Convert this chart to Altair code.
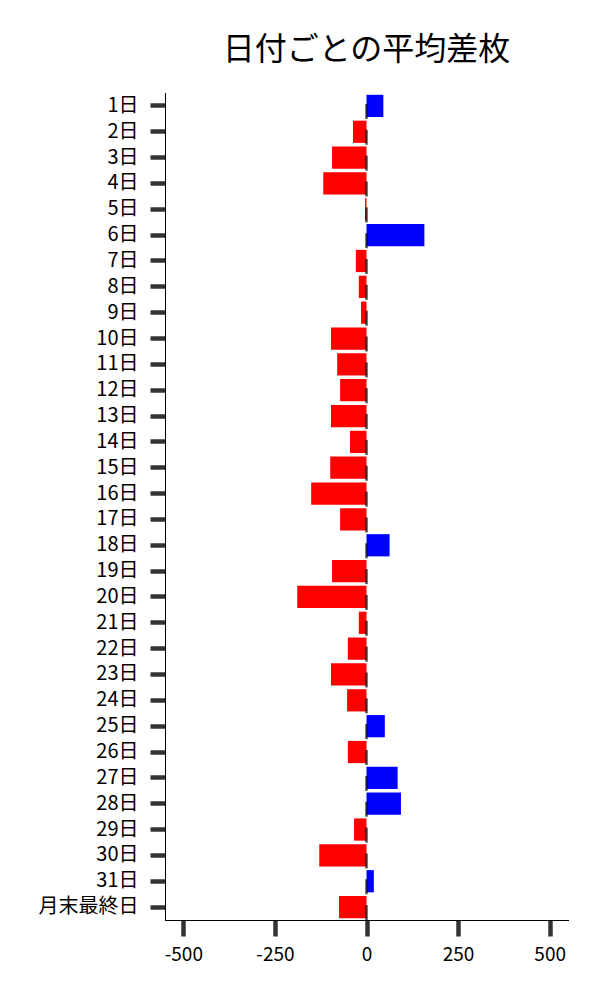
import altair as alt
import pandas as pd

days = [f"{i}日" for i in range(1, 32)] + ["月末最終日"]
values = [46, -37, -94, -118, -4, 158, -29, -21, -15, -97, -80, -72, -97, -45, -99,
          -151, -72, 63, -94, -189, -21, -51, -97, -53, 50, -51, 85, 94, -34, -129, 20, -75]
x_ticks = [-500, -250, 0, 250, 500]

df = pd.DataFrame({"day": days, "value": values})
FONT = "Noto Sans CJK JP"

y_enc = alt.Y("day:N", sort=days, title=None,
              scale=alt.Scale(paddingInner=0.14, paddingOuter=0.07),
              axis=alt.Axis(labelFont=FONT, labelFontSize=20, labelColor="black",
                            tickColor="#333333", tickWidth=4.5, tickSize=15,
                            labelPadding=12, domainColor="black", domainWidth=1))
x_enc = alt.X("value:Q", title=None,
              scale=alt.Scale(domain=[-550, 550], nice=False, zero=False),
              axis=alt.Axis(values=x_ticks, grid=False, labelExpr="datum.value + ''",
                            labelFont=FONT, labelFontSize=19, labelColor="black",
                            tickColor="#333333", tickWidth=4.5, tickSize=16,
                            labelPadding=9, domainColor="black", domainWidth=1))

bars = alt.Chart(df).mark_bar().encode(
    y=y_enc,
    x=x_enc,
    x2=alt.datum(0),
    color=alt.condition("datum.value > 0", alt.value("#0000ff"), alt.value("#ff0000")),
)

ticks = alt.Chart(df).mark_tick(orient="vertical", color="black", size=15,
                                thickness=2.5, yOffset=5.5).encode(
    y=alt.Y("day:N", sort=days),
    x=alt.datum(0),
)

chart = (bars + ticks).properties(
    width=403, height=827,
    title=alt.TitleParams("日付ごとの平均差枚", font=FONT, fontSize=32,
                          fontWeight="normal", color="black", offset=26, anchor="middle"),
    autosize=alt.AutoSizeParams(type="none"),
    padding={"left": 157, "top": 85, "right": 24, "bottom": 64},
).configure_view(stroke=None).configure_axis(domainCap="square")

chart.save("out.html", embed_options={"renderer": "svg", "actions": False})
